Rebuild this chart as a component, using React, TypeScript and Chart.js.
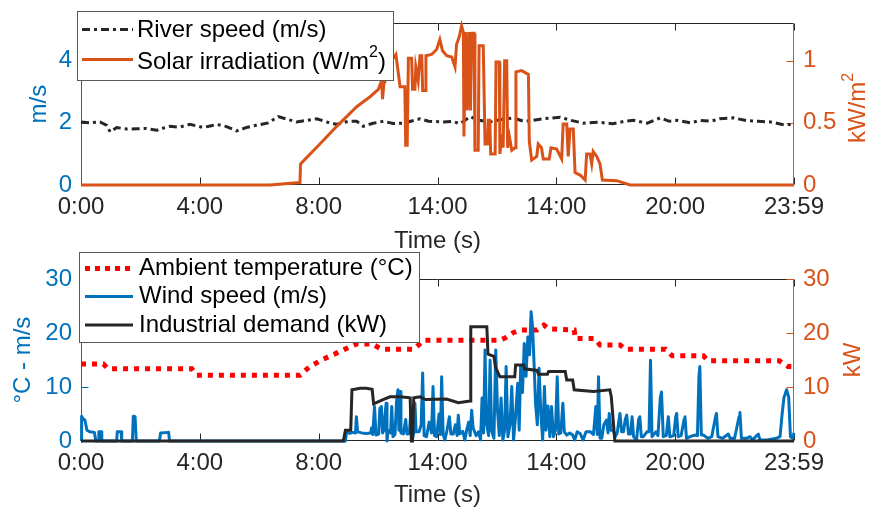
import React, { useEffect, useRef } from 'react';
import { Chart, registerables } from 'chart.js';

Chart.register(...registerables);

const FONT = "'Liberation Sans', Arial, Helvetica, sans-serif";
const BLUE = '#0072BD';
const ORANGE = '#D95319';
const DARK = '#262626';
const RED = '#FF0000';

// ---------- shared x axis ----------
const xTickValues = [0, 4, 8, 12, 16, 20, 24];
const xTickLabels = ['0:00', '4:00', '8:00', '14:00', '14:00', '20:00', '23:59'];

// ---------- top panel ----------
const riverTicks = [0, 2, 4];
const solarTicks = [0, 0.5, 1];

const riverTime = [0, 0.3, 0.64, 0.87, 0.98, 1.2, 1.55, 1.87, 2.2, 2.55, 2.8, 3.0, 3.3, 3.67, 4.12, 4.35, 4.57, 4.9, 5.24, 5.6, 5.9, 6.3, 6.64, 7.0, 7.26, 7.6, 7.94, 8.3, 8.6, 9.0, 9.28, 9.5, 9.8, 10.18, 10.5, 10.85, 11.1, 11.41, 11.7, 12.2, 12.5, 12.76, 13.1, 13.4, 13.77, 14.1, 14.55, 14.9, 15.2, 15.56, 16.13, 16.5, 16.9, 17.4, 17.9, 18.3, 18.6, 19.06, 19.5, 19.8, 20.07, 20.5, 20.85, 21.2, 21.5, 21.96, 22.4, 22.8, 23.2, 23.6, 24.0];
const riverSpeed = [2.03, 2.0, 2.03, 1.92, 1.71, 1.85, 1.8, 1.81, 1.82, 1.76, 1.84, 1.89, 1.86, 1.95, 1.85, 1.9, 1.95, 1.88, 1.74, 1.86, 1.92, 2.0, 2.2, 2.1, 2.03, 2.08, 2.13, 2.02, 1.95, 2.05, 2.05, 1.89, 1.98, 2.05, 1.98, 1.99, 2.05, 2.13, 2.05, 2.03, 2.05, 1.97, 2.2, 2.08, 2.03, 2.1, 2.16, 2.05, 2.08, 2.13, 2.18, 2.08, 1.99, 2.02, 1.97, 2.05, 2.08, 1.99, 2.16, 2.05, 2.08, 2.0, 2.08, 2.05, 2.13, 2.16, 2.07, 2.05, 2.03, 1.95, 1.95];

const solarTime = [0, 6.36, 7.37, 7.39, 8.04, 8.6, 9.28, 9.73, 10.01, 10.12, 10.15, 10.2, 10.23, 10.4, 10.6, 10.74, 10.9, 10.93, 10.98, 11.02, 11.13, 11.16, 11.24, 11.27, 11.35, 11.41, 11.47, 11.5, 11.58, 11.61, 11.8, 11.97, 12.08, 12.17, 12.31, 12.48, 12.59, 12.64, 12.73, 12.81, 12.87, 12.89, 12.94, 13.0, 13.05, 13.11, 13.15, 13.23, 13.26, 13.37, 13.4, 13.54, 13.6, 13.68, 13.71, 13.76, 13.79, 13.94, 13.97, 14.08, 14.1, 14.16, 14.21, 14.26, 14.33, 14.36, 14.42, 14.5, 14.61, 14.64, 14.83, 15.06, 15.09, 15.17, 15.34, 15.39, 15.5, 15.56, 15.76, 15.82, 16.01, 16.18, 16.23, 16.35, 16.4, 16.46, 16.57, 16.63, 16.8, 16.97, 17.02, 17.13, 17.19, 17.24, 17.36, 17.47, 17.55, 18.03, 18.48, 24];
const solarIrr = [0, 0, 0.02, 0.17, 0.33, 0.47, 0.63, 0.71, 0.77, 0.84, 0.69, 0.83, 1.07, 0.98, 1.05, 0.79, 0.79, 0.32, 0.32, 1.02, 1.02, 0.77, 0.77, 0.95, 0.84, 1.04, 1.04, 0.76, 0.76, 1.04, 1.05, 1.09, 1.17, 1.08, 1.04, 1.03, 0.95, 1.13, 1.19, 1.28, 1.23, 0.39, 1.23, 0.6, 1.23, 0.6, 1.22, 1.22, 0.28, 0.28, 1.12, 1.12, 0.33, 0.33, 0.52, 0.52, 0.25, 0.25, 0.99, 0.99, 0.25, 0.41, 0.3, 1.0, 1.0, 0.3, 0.39, 0.28, 0.3, 0.91, 0.92, 0.89, 0.35, 0.2, 0.23, 0.33, 0.3, 0.21, 0.21, 0.3, 0.29, 0.21, 0.49, 0.49, 0.23, 0.45, 0.45, 0.1, 0.08, 0.04, 0.25, 0.25, 0.17, 0.27, 0.23, 0.17, 0.04, 0.035, 0, 0];

// ---------- bottom panel ----------
const tempTicks = [0, 10, 20, 30];
const kwTicks = [0, 10, 20, 30];

const tempTime = [0, 0.75, 0.92, 3.73, 3.9, 7.37, 7.7, 8.16, 8.6, 8.95, 9.28, 9.8, 10.13, 11.2, 11.36, 11.53, 14.1, 14.3, 14.55, 14.8, 15.35, 15.58, 15.75, 16.6, 16.64, 17.3, 17.47, 18.15, 18.33, 19.68, 19.9, 20.95, 21.1, 23.5, 23.8, 24];
const tempValue = [14.3, 14.3, 13.4, 13.4, 12.2, 12.2, 13.8, 15.2, 16.3, 17.2, 18.0, 18.0, 17.0, 17.0, 17.8, 18.7, 18.7, 19.2, 20.1, 20.6, 20.6, 21.5, 20.8, 20.6, 19.0, 19.0, 17.8, 17.8, 17.0, 17.0, 15.8, 15.8, 14.9, 14.9, 13.8, 13.8];

const windTime = [
  0, 0.02, 0.08, 0.13, 0.2, 0.3, 0.45, 0.5, 0.58, 0.6, 0.68, 0.7, 1.2, 1.22, 1.35, 1.37, 1.73, 1.76, 1.82, 1.86, 2.64, 2.68, 2.95, 2.98,
  8.9, 8.94, 9.05, 9.15, 9.24, 9.27, 9.31, 9.45, 9.6, 9.75, 9.78, 9.82, 9.88, 9.93, 10.02, 10.06, 10.11, 10.15, 10.2, 10.23, 10.27, 10.3, 10.34, 10.42, 10.46, 10.5, 10.57, 10.62, 10.67, 10.7, 10.74, 10.77,
  10.85, 10.93, 10.97, 11.05, 11.1, 11.14, 11.2, 11.24, 11.28, 11.38, 11.45, 11.5, 11.55, 11.63, 11.72, 11.8, 11.85, 11.9, 11.97, 12.05, 12.1, 12.14, 12.19, 12.25, 12.32, 12.4, 12.45, 12.53, 12.6, 12.66, 12.7, 12.75, 12.85, 12.92, 12.98, 13.05, 13.1, 13.15, 13.2, 13.3, 13.38, 13.45, 13.5, 13.55,
  13.6, 13.65, 13.72, 13.77, 13.82, 13.9, 13.96, 14.02, 14.08, 14.14, 14.2, 14.26, 14.31, 14.37, 14.44, 14.5, 14.56, 14.62, 14.7, 14.75, 14.8, 14.86, 14.92, 14.98, 15.04, 15.1, 15.15, 15.2, 15.25, 15.3, 15.36, 15.42, 15.48, 15.54, 15.6, 15.65, 15.72, 15.78, 15.84, 15.9, 15.97, 16.03, 16.08,
  16.15, 16.22, 16.27, 16.35, 16.45, 16.55, 16.62, 16.7, 16.8, 16.9, 17.0, 17.15, 17.25, 17.33, 17.38, 17.42, 17.47, 17.53, 17.6, 17.69, 17.74, 17.78, 17.84, 17.92, 17.98, 18.05, 18.14, 18.2, 18.26, 18.32, 18.37, 18.43, 18.5, 18.55, 18.6, 18.7, 18.77, 18.81, 18.86, 18.93,
  19.05, 19.12, 19.17, 19.22, 19.35, 19.42, 19.5, 19.54, 19.6, 19.7, 19.77, 19.82, 19.95, 20.02, 20.05, 20.1, 20.2, 20.3, 20.33, 20.38, 20.5, 20.66, 20.75, 20.8, 20.83, 20.88, 20.95, 21.1, 21.23, 21.36, 21.39, 21.44, 21.6, 21.79, 21.85, 22.0, 22.15, 22.18, 22.23, 22.4, 22.52, 22.6, 22.8, 22.85, 23.1, 23.4, 23.53, 23.6, 23.66, 23.75, 23.82, 23.88, 23.95, 24.0,
];
const windSpeed = [
  0, 4.6, 4.0, 3.9, 2.0, 1.7, 1.6, 0, 0, 1.7, 1.7, 0, 0, 1.7, 1.7, 0, 0, 4.6, 4.5, 0, 0, 1.5, 1.6, 0,
  0, 1.7, 1.4, 1.6, 1.5, 4.5, 1.7, 1.5, 1.4, 1.5, 2.4, 1.2, 6.4, 1.1, 1.3, 6.0, 6.4, 1.5, 2.0, 4.5, 7.0, 0, 2.0, 1.5, 6.4, 0.8, 1.2, 7.3, 9.5, 2.0, 9.2, 1.5,
  1.3, 4.0, 1.3, 1.4, 5.0, 0, 1.5, 7.0, 1.7, 1.7, 3.0, 12.6, 1.0, 0.8, 3.5, 1.5, 10.1, 1.0, 0.8, 5.0, 1.2, 11.9, 1.2, 0.2, 2.0, 4.5, 1.3, 1.3, 3.0, 1.0, 4.8, 1.3, 1.8, 0.2, 2.0, 3.5, 1.0, 5.7, 2.4, 1.0, 1.7, 0.2, 8.0, 1.5,
  16.9, 3.3, 1.0, 15.0, 2.0, 0.5, 16.9, 5.7, 1.0, 8.0, 0.2, 2.0, 13.8, 0.8, 3.0, 10.1, 0.2, 4.0, 10.7, 2.0, 14.0, 9.0, 18.1, 12.0, 19.3, 16.0, 24.0, 21.2, 14.4, 7.0, 3.0, 13.5, 5.0, 0.2, 10.1, 2.0, 6.5, 0.8, 6.4, 0.8, 2.0, 11.9, 1.3,
  1.5, 7.0, 1.7, 1.1, 1.5, 1.1, 0.2, 1.7, 1.4, 0.2, 1.7, 1.7, 1.2, 6.4, 1.2, 11.9, 0.5, 0.5, 3.0, 3.9, 1.5, 5.1, 2.0, 2.0, 0.8, 1.5, 5.1, 1.7, 1.7, 4.0, 4.8, 1.3, 1.3, 4.5, 0.8, 0.2, 4.0, 4.5, 0.8, 0.8,
  1.7, 1.7, 15.0, 0.8, 1.7, 1.0, 8.0, 9.1, 0.8, 1.0, 4.5, 0.8, 1.0, 4.5, 5.1, 0.8, 1.0, 4.0, 4.5, 0.5, 0.8, 1.1, 1.0, 12.0, 13.8, 1.1, 1.1, 0.5, 0.8, 4.5, 5.1, 0.8, 0.5, 1.3, 0.5, 0.5, 4.5, 5.3, 0.5, 0.5, 0.8, 0.2, 1.3, 0.2, 0.2, 0.5, 0.8, 5.0, 8.0, 9.5, 8.2, 0.8, 0.5, 1.5,
];

const demandTime = [0, 8.83, 8.9, 9.08, 9.12, 9.4, 9.6, 9.8, 9.85, 10.13, 10.4, 10.75, 11.08, 11.12, 11.16, 11.2, 11.41, 11.6, 12.3, 12.7, 13.1, 13.12, 13.66, 13.7, 13.9, 13.95, 14.1, 14.6, 14.63, 14.9, 14.93, 15.35, 15.4, 15.7, 15.74, 16.3, 16.35, 16.55, 16.6, 17.25, 17.8, 17.85, 17.97, 24];
const demandKW = [0, 0, 2.0, 2.0, 9.5, 9.8, 9.8, 9.6, 6.9, 7.6, 8.2, 8.2, 8.0, 0, 0, 8.0, 8.2, 7.7, 7.8, 7.1, 7.4, 21.2, 21.2, 16.1, 15.7, 13.7, 11.9, 11.9, 14.1, 14.1, 13.4, 13.1, 12.4, 12.4, 12.9, 12.9, 11.3, 11.3, 9.5, 9.2, 9.5, 8.2, 0, 0];

// ---------- helpers ----------
type Seg = { t: string; sup?: boolean };

const xy = (t: number[], v: number[]) => t.map((x, i) => ({ x, y: v[i] }));

function drawRich(ctx: CanvasRenderingContext2D, segs: Seg[], x: number, y: number, size: number, color: string, align: 'left' | 'center') {
  ctx.fillStyle = color;
  ctx.textBaseline = 'middle';
  ctx.textAlign = 'left';
  const supSize = Math.round(size * 0.68);
  const widths = segs.map((s) => {
    ctx.font = `${s.sup ? supSize : size}px ${FONT}`;
    return ctx.measureText(s.t).width;
  });
  const total = widths.reduce((a, b) => a + b, 0);
  let cx = align === 'center' ? x - total / 2 : x;
  segs.forEach((s, i) => {
    ctx.font = `${s.sup ? supSize : size}px ${FONT}`;
    ctx.fillText(s.t, cx, s.sup ? y - size * 0.38 : y);
    cx += widths[i];
  });
}

interface LegendItem { lineY: number; textY: number; color: string; width: number; dash: number[]; segs: Seg[] }

interface FrameCfg {
  leftTicks: number[];
  rightTicks: number[];
  rightTitle: Seg[];
  rightTitlePos: [number, number];
  legendBox: [number, number, number, number];
  legendLineX: [number, number];
  legendTextX: number;
  legendItems: LegendItem[];
}

function framePlugin(cfg: FrameCfg) {
  return {
    id: 'matlabFrame',
    beforeDatasetsDraw(chart: any) {
      const { ctx, chartArea, scales } = chart;
      const { left, right, top, bottom } = chartArea;
      const L = Math.round(left) + 0.5;
      const R = Math.round(right) - 0.5;
      const T = Math.round(top) + 0.5;
      const B = Math.round(bottom) - 0.5;
      ctx.save();
      ctx.lineWidth = 1;
      ctx.setLineDash([]);
      const seg = (x1: number, y1: number, x2: number, y2: number) => {
        ctx.beginPath();
        ctx.moveTo(x1, y1);
        ctx.lineTo(x2, y2);
        ctx.stroke();
      };
      ctx.strokeStyle = DARK;
      seg(L, T, R, T);
      seg(L, B, R, B);
      xTickValues.forEach((v) => {
        const px = Math.round(scales.x.getPixelForValue(v)) + 0.5;
        seg(px, B, px, B - 7);
        seg(px, T, px, T + 7);
      });
      ctx.strokeStyle = BLUE;
      seg(L, T, L, B);
      cfg.leftTicks.forEach((v) => {
        const py = Math.round(scales.y.getPixelForValue(v)) + 0.5;
        seg(L, py, L + 7, py);
      });
      ctx.strokeStyle = ORANGE;
      seg(R, T, R, B);
      cfg.rightTicks.forEach((v) => {
        const py = Math.round(scales.y1.getPixelForValue(v)) + 0.5;
        seg(R, py, R - 7, py);
      });
      ctx.restore();
    },
    afterDraw(chart: any) {
      const ctx: CanvasRenderingContext2D = chart.ctx;
      ctx.save();
      // right axis title, rotated like MATLAB (reads bottom to top)
      ctx.translate(cfg.rightTitlePos[0], cfg.rightTitlePos[1]);
      ctx.rotate(-Math.PI / 2);
      drawRich(ctx, cfg.rightTitle, 0, 0, 24, ORANGE, 'center');
      ctx.restore();

      // legend
      ctx.save();
      const [bx, by, bw, bh] = cfg.legendBox;
      ctx.fillStyle = '#ffffff';
      ctx.fillRect(bx, by, bw, bh);
      ctx.strokeStyle = '#5a5a5a';
      ctx.lineWidth = 1;
      ctx.strokeRect(Math.round(bx) + 0.5, Math.round(by) + 0.5, Math.round(bw), Math.round(bh));
      cfg.legendItems.forEach((it) => {
        ctx.save();
        ctx.strokeStyle = it.color;
        ctx.lineWidth = it.width;
        ctx.lineCap = 'butt';
        ctx.setLineDash(it.dash);
        ctx.beginPath();
        ctx.moveTo(cfg.legendLineX[0], it.lineY);
        ctx.lineTo(cfg.legendLineX[1], it.lineY);
        ctx.stroke();
        ctx.restore();
        drawRich(ctx, it.segs, cfg.legendTextX, it.textY, 24, '#000000', 'left');
      });
      ctx.restore();
    },
  };
}

interface PanelCfg {
  datasets: any[];
  padTop: number;
  xHeight: number;
  xTitlePad: number;
  leftMax: number;
  rightMax: number;
  leftTicks: number[];
  rightTicks: number[];
  leftTitle: string;
  leftTitlePad: number;
  frame: FrameCfg;
}

function makeConfig(p: PanelCfg): any {
  const font = { family: FONT, size: 24 };
  const plain = (v: any) => String(v);
  return {
    type: 'line',
    data: { datasets: p.datasets },
    options: {
      animation: false,
      responsive: false,
      maintainAspectRatio: false,
      devicePixelRatio: 1,
      events: [],
      layout: { padding: { top: p.padTop, left: 0, right: 0, bottom: 0 } },
      plugins: { legend: { display: false }, tooltip: { enabled: false } },
      elements: { point: { radius: 0 }, line: { tension: 0 } },
      scales: {
        x: {
          type: 'linear',
          position: 'bottom',
          min: 0,
          max: 24,
          afterBuildTicks: (s: any) => {
            s.ticks = xTickValues.map((v) => ({ value: v }));
          },
          afterFit: (s: any) => {
            s.height = p.xHeight;
          },
          ticks: {
            autoSkip: false,
            maxRotation: 0,
            minRotation: 0,
            padding: 8,
            color: DARK,
            font,
            callback: (_v: any, i: number) => xTickLabels[i],
          },
          grid: { display: false, drawTicks: false },
          border: { display: false },
          title: { display: true, text: 'Time (s)', color: DARK, font, padding: { top: 0, bottom: p.xTitlePad } },
        },
        y: {
          type: 'linear',
          position: 'left',
          min: 0,
          max: p.leftMax,
          afterBuildTicks: (s: any) => {
            s.ticks = p.leftTicks.map((v) => ({ value: v }));
          },
          afterFit: (s: any) => {
            s.width = 81;
          },
          ticks: { padding: 9, color: BLUE, font, callback: plain },
          grid: { display: false, drawTicks: false },
          border: { display: false },
          title: { display: true, text: p.leftTitle, color: BLUE, font, padding: { top: p.leftTitlePad, bottom: 0 } },
        },
        y1: {
          type: 'linear',
          position: 'right',
          min: 0,
          max: p.rightMax,
          afterBuildTicks: (s: any) => {
            s.ticks = p.rightTicks.map((v) => ({ value: v }));
          },
          afterFit: (s: any) => {
            s.width = 79;
          },
          ticks: { padding: 9, color: ORANGE, font, callback: plain },
          grid: { display: false, drawTicks: false },
          border: { display: false },
        },
      },
    },
    plugins: [framePlugin(p.frame)],
  };
}

const TOP_H = 258;
const BOT_TOP = 248;
const BOT_H = 511 - BOT_TOP;

export default function App() {
  const topRef = useRef<HTMLCanvasElement>(null);
  const botRef = useRef<HTMLCanvasElement>(null);

  useEffect(() => {
    const topChart = new Chart(topRef.current as HTMLCanvasElement, makeConfig({
      datasets: [
        { label: 'Solar irradiation (W/m²)', data: xy(solarTime, solarIrr), yAxisID: 'y1', borderColor: ORANGE, borderWidth: 3, pointRadius: 0, clip: false, order: 0 },
        { label: 'River speed (m/s)', data: xy(riverTime, riverSpeed), yAxisID: 'y', borderColor: DARK, borderWidth: 3, borderDash: [8, 4, 3, 4], pointRadius: 0, clip: false, order: 1 },
      ],
      padTop: 23,
      xHeight: TOP_H - 185,
      xTitlePad: 2,
      leftMax: 5.2,
      rightMax: 1.3,
      leftTicks: riverTicks,
      rightTicks: solarTicks,
      leftTitle: 'm/s',
      leftTitlePad: 25,
      frame: {
        leftTicks: riverTicks,
        rightTicks: solarTicks,
        rightTitle: [{ t: 'kW/m' }, { t: '2', sup: true }],
        rightTitlePos: [858, 108],
        legendBox: [77, 11, 316, 69],
        legendLineX: [82, 133],
        legendTextX: 137,
        legendItems: [
          { lineY: 29.5, textY: 30, color: DARK, width: 3, dash: [8, 4, 3, 4], segs: [{ t: 'River speed (m/s)' }] },
          { lineY: 59.5, textY: 62, color: ORANGE, width: 3, dash: [], segs: [{ t: 'Solar irradiation (W/m' }, { t: '2', sup: true }, { t: ')' }] },
        ],
      },
    }));

    const botChart = new Chart(botRef.current as HTMLCanvasElement, makeConfig({
      datasets: [
        { label: 'Industrial demand (kW)', data: xy(demandTime, demandKW), yAxisID: 'y1', borderColor: DARK, borderWidth: 3, pointRadius: 0, clip: false, order: 0 },
        { label: 'Wind speed (m/s)', data: xy(windTime, windSpeed), yAxisID: 'y', borderColor: BLUE, borderWidth: 3, borderJoinStyle: 'round', pointRadius: 0, clip: false, order: 1 },
        { label: 'Ambient temperature (°C)', data: xy(tempTime, tempValue), yAxisID: 'y', borderColor: RED, borderWidth: 5, borderDash: [5, 6], borderCapStyle: 'butt', pointRadius: 0, clip: false, order: 2 },
      ],
      padTop: 279.3 - BOT_TOP,
      xHeight: BOT_H - (441 - BOT_TOP),
      xTitlePad: 1,
      leftMax: 30,
      rightMax: 30,
      leftTicks: tempTicks,
      rightTicks: kwTicks,
      leftTitle: '°C - m/s',
      leftTitlePad: 9,
      frame: {
        leftTicks: tempTicks,
        rightTicks: kwTicks,
        rightTitle: [{ t: 'kW' }],
        rightTitlePos: [853, 360 - BOT_TOP],
        legendBox: [79, 252 - BOT_TOP, 340, 90],
        legendLineX: [85, 133],
        legendTextX: 139,
        legendItems: [
          { lineY: 268.5 - BOT_TOP, textY: 268.5 - BOT_TOP, color: RED, width: 5, dash: [5, 5], segs: [{ t: 'Ambient temperature (°C)' }] },
          { lineY: 296.5 - BOT_TOP, textY: 296.5 - BOT_TOP, color: BLUE, width: 3, dash: [], segs: [{ t: 'Wind speed (m/s)' }] },
          { lineY: 325 - BOT_TOP, textY: 325 - BOT_TOP, color: DARK, width: 3, dash: [], segs: [{ t: 'Industrial demand (kW)' }] },
        ],
      },
    }));

    return () => {
      topChart.destroy();
      botChart.destroy();
    };
  }, []);

  return (
    <div style={{ position: 'absolute', left: 0, top: 0, width: 873, height: 511, background: '#ffffff', overflow: 'hidden' }}>
      <canvas ref={topRef} width={873} height={TOP_H} style={{ position: 'absolute', left: 0, top: 0, width: 873, height: TOP_H, display: 'block' }} />
      <canvas ref={botRef} width={873} height={BOT_H} style={{ position: 'absolute', left: 0, top: BOT_TOP, width: 873, height: BOT_H, display: 'block' }} />
    </div>
  );
}
